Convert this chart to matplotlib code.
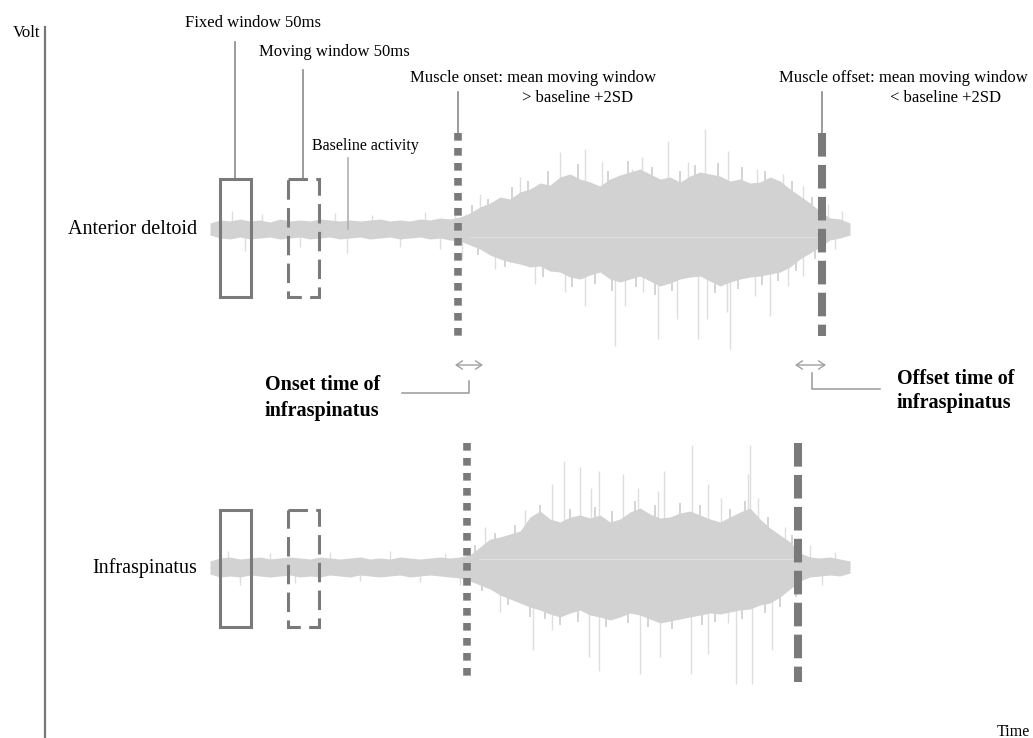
import matplotlib
matplotlib.use("Agg")
import matplotlib.pyplot as plt
from matplotlib.patches import Rectangle
import numpy as np

plt.rcParams['font.family'] = ['Liberation Serif', 'DejaVu Serif']
plt.rcParams['lines.scale_dashes'] = False

# ---------------- data (time axis in schematic units, amplitude in schematic units) -------------
TRACE_NAMES = ["Anterior deltoid", "Infraspinatus"]
TRACE_CENTER = [229, 567]          # baseline level of each trace
T = list(range(210, 851, 10))      # sample times of the envelopes

ENV_UP_DELTOID = [6, 9, 8, 10, 8, 9, 7, 10, 8, 9, 8, 10, 9, 8, 9, 8, 9, 10, 8, 9, 8, 10, 9, 11, 10, 12,
                  16, 22, 26, 32, 30, 37, 40, 46, 44, 52, 55, 50, 47, 43, 50, 54, 57, 60, 55, 50, 52, 47,
                  53, 57, 55, 53, 48, 50, 46, 47, 52, 48, 40, 33, 26, 18, 11, 10, 6]
ENV_DN_DELTOID = [6, 9, 10, 8, 10, 9, 8, 10, 9, 8, 10, 9, 8, 10, 9, 8, 10, 9, 8, 10, 9, 8, 10, 9, 11, 12,
                  16, 20, 26, 30, 33, 35, 38, 37, 42, 43, 48, 50, 46, 43, 50, 53, 50, 47, 52, 57, 54, 50,
                  48, 47, 52, 57, 53, 50, 48, 47, 45, 43, 38, 30, 24, 18, 11, 9, 6]
ENV_UP_INFRA = [6, 9, 10, 8, 9, 10, 8, 9, 10, 9, 8, 10, 9, 8, 9, 10, 8, 9, 8, 10, 9, 8, 9, 10, 9, 10,
                12, 20, 28, 30, 33, 36, 50, 56, 48, 45, 50, 52, 49, 52, 45, 48, 55, 59, 53, 49, 50, 54,
                56, 52, 48, 45, 50, 55, 59, 48, 39, 32, 25, 14, 10, 9, 10, 8, 6]
ENV_DN_INFRA = [7, 10, 9, 10, 8, 9, 10, 9, 8, 10, 9, 10, 8, 9, 10, 8, 9, 10, 9, 8, 10, 9, 8, 9, 10, 11,
                14, 18, 22, 28, 32, 36, 40, 43, 47, 50, 46, 43, 48, 50, 53, 50, 46, 48, 52, 56, 54, 52,
                50, 48, 46, 47, 45, 43, 42, 38, 36, 30, 22, 14, 10, 9, 8, 9, 6]

# large spikes: (time, excursion)  positive = upward
SPIKES_DELTOID = [(232, 18), (245, -22), (262, 15), (300, -18), (335, 16), (347, -24), (372, 14),
                  (400, -18), (425, 17), (440, -20), (455, 22), (462, -30), (480, 35), (495, -40),
                  (520, 52), (535, -55), (560, 77), (565, -63), (585, 80), (585, -77), (602, 67),
                  (615, -117), (625, -77), (632, 60), (642, 72), (643, -63), (658, -110), (668, 88),
                  (677, -90), (688, 67), (698, -110), (705, 100), (707, -90), (727, -83), (728, 78),
                  (730, -120), (755, -67), (757, 60), (770, -87), (783, 55), (788, -57), (803, 43),
                  (803, -47), (828, 25), (835, -20), (842, 18)]
SPIKES_INFRA = [(228, 16), (240, -18), (270, 14), (295, -16), (330, 15), (360, -14), (390, 16),
                (420, -15), (445, 14), (460, -18), (485, 40), (500, -45), (525, 57), (533, -83),
                (552, 83), (552, -63), (564, 106), (580, 100), (589, -90), (591, 79), (599, 96),
                (599, -104), (623, 93), (638, 79), (640, -107), (658, 76), (660, -90), (664, 96),
                (691, -107), (692, 122), (708, 83), (708, -87), (721, 69), (728, -56), (736, -117),
                (748, 93), (750, 122), (752, -117), (758, 69), (772, -83), (785, 40), (810, 22),
                (822, -18), (835, 15)]
# medium spikes that roughen the envelope edge
FUZZ_DELTOID = [(472, 24), (478, -26), (488, 30), (505, -38), (512, 42), (528, 48), (543, -48),
                (548, 58), (572, -58), (578, 65), (595, -55), (608, 58), (612, -62), (628, 68),
                (636, -58), (652, 62), (655, -66), (672, -62), (680, 58), (695, 64), (715, -64),
                (718, 66), (738, -60), (742, 62), (762, -56), (765, 58), (778, -52), (792, 48),
                (796, -42), (812, 32), (815, -30)]
FUZZ_INFRA = [(475, 22), (482, -24), (495, 34), (508, -38), (515, 42), (530, -50), (540, 62),
              (545, -52), (560, -58), (570, 58), (578, -55), (595, 60), (606, -60), (612, 56),
              (628, -56), (635, 66), (648, -60), (655, 62), (672, -62), (680, 64), (700, 62),
              (702, -58), (715, -55), (730, 58), (742, -52), (745, 66), (765, -46), (768, 50),
              (780, -40), (792, 32), (796, -30)]

ONSET_T = [458, 467]
OFFSET_T = [822, 798]
FIXED_WIN = (220, 251)
MOVING_WIN = (288, 319)

ENV_UP = [ENV_UP_DELTOID, ENV_UP_INFRA]
ENV_DN = [ENV_DN_DELTOID, ENV_DN_INFRA]
SPIKES = [SPIKES_DELTOID, SPIKES_INFRA]
FUZZ = [FUZZ_DELTOID, FUZZ_INFRA]

# ---------------- figure -------------
W, H = 1033, 738
fig = plt.figure(figsize=(W / 100, H / 100), dpi=100)
ax = fig.add_axes([45 / W, 0, 1 - 45 / W, 1 - 27 / H])
ax.set_xlim(45, W)
ax.set_ylim(H, 27)
for s in ['top', 'right', 'bottom']:
    ax.spines[s].set_visible(False)
ax.spines['left'].set_color('#777777')
ax.spines['left'].set_linewidth(1.6)
ax.set_xticks([])
ax.set_yticks([])

fig.text(40 / W, 1 - 33 / H, "Volt", ha='right', va='center', fontsize=12)
fig.text(1030 / W, 1 - 732 / H, "Time", ha='right', va='center', fontsize=11.5)

grey_core = '#d2d2d2'
grey_spk = '#dedede'
grey_fuzz = '#d4d4d4'
mark = '#7a7a7a'

marker_ext = [(96, 107), (124, 115)]
win_ext = [(50, 68), (57, 60)]
white_off = [8, -8]

t = np.array(T)
for i in range(2):
    c = TRACE_CENTER[i]
    up = np.array(ENV_UP[i])
    dn = np.array(ENV_DN[i])
    # spikes
    st = [s[0] for s in SPIKES[i]]
    sv = [s[1] for s in SPIKES[i]]
    ax.vlines(st, c, [c - v for v in sv], color=grey_spk, lw=1.0, zorder=1)
    ft = [s[0] for s in FUZZ[i]]
    fv = [s[1] for s in FUZZ[i]]
    ax.vlines(ft, c, [c - v for v in fv], color=grey_fuzz, lw=1.4, zorder=1)
    ax.fill_between(t, c - up, c + dn, color=grey_core, lw=0, zorder=2)
    ax.plot([ONSET_T[i] + 12, OFFSET_T[i] - 4], [c + white_off[i]] * 2, color='white',
            lw=0.8, alpha=0.3, zorder=3)
    # label
    ax.text(197, c + 1, TRACE_NAMES[i], ha='right', va='center', fontsize=14.5)
    # windows
    wt, wb = win_ext[i]
    ax.add_patch(Rectangle((FIXED_WIN[0], c - wt), FIXED_WIN[1] - FIXED_WIN[0], wt + wb,
                           fill=False, ec=mark, lw=2.2, zorder=4))
    ax.add_patch(Rectangle((MOVING_WIN[0], c - wt), MOVING_WIN[1] - MOVING_WIN[0], wt + wb,
                           fill=False, ec=mark, lw=2.2, ls=(0, (14, 6)), zorder=4))
    # onset / offset markers
    mt, mb = marker_ext[i]
    ax.plot([ONSET_T[i], ONSET_T[i]], [c - mt, c + mb], color=mark, lw=5.5,
            ls=(0, (5.5, 5.3)), solid_capstyle='butt', dash_capstyle='butt', zorder=5)
    ax.plot([OFFSET_T[i], OFFSET_T[i]], [c - mt, c + mb], color=mark, lw=5.8,
            ls=(0, (17, 6)), solid_capstyle='butt', dash_capstyle='butt', zorder=5)

lead = '#8a8a8a'
# annotations with leader lines
ax.text(253, 23, "Fixed window 50ms", ha='center', va='center', fontsize=12, clip_on=False)
ax.plot([235, 235], [42, 179], color=lead, lw=1.2)
ax.text(334, 52, "Moving window 50ms", ha='center', va='center', fontsize=12)
ax.plot([303, 303], [70, 178], color=lead, lw=1.2)
ax.text(365, 146, "Baseline activity", ha='center', va='center', fontsize=11.5)
ax.plot([348, 348], [158, 229], color='#b0b0b0', lw=1.2)

ax.text(533, 78, "Muscle onset: mean moving window", ha='center', va='center', fontsize=12)
ax.text(578, 98, "> baseline +2SD", ha='center', va='center', fontsize=12)
ax.plot([ONSET_T[0], ONSET_T[0]], [92, 133], color=lead, lw=1.2)
ax.text(903, 78, "Muscle offset: mean moving window", ha='center', va='center', fontsize=12)
ax.text(946, 98, "< baseline +2SD", ha='center', va='center', fontsize=12)
ax.plot([OFFSET_T[0], OFFSET_T[0]], [92, 133], color=lead, lw=1.2)

# onset / offset time difference arrows
arr = dict(arrowstyle='<->,head_length=0.45,head_width=0.3', color='#a0a0a0', lw=1.0,
           shrinkA=0, shrinkB=0)
ax.annotate("", xy=(455, 365), xytext=(483, 365), arrowprops=arr)
ax.annotate("", xy=(795, 365), xytext=(826, 365), arrowprops=arr)
ax.plot([469, 469, 402], [381, 393, 393], color='#999999', lw=1.1)
ax.plot([812, 812, 880], [373, 389, 389], color='#999999', lw=1.1)

ax.text(265, 385, "Onset time of", ha='left', va='center', fontsize=14.5, fontweight='bold')
ax.text(265, 411, "infraspinatus", ha='left', va='center', fontsize=14.5, fontweight='bold')
ax.text(897, 379, "Offset time of", ha='left', va='center', fontsize=14.5, fontweight='bold')
ax.text(897, 403, "infraspinatus", ha='left', va='center', fontsize=14.5, fontweight='bold')

fig.savefig("out.png", dpi=100)
